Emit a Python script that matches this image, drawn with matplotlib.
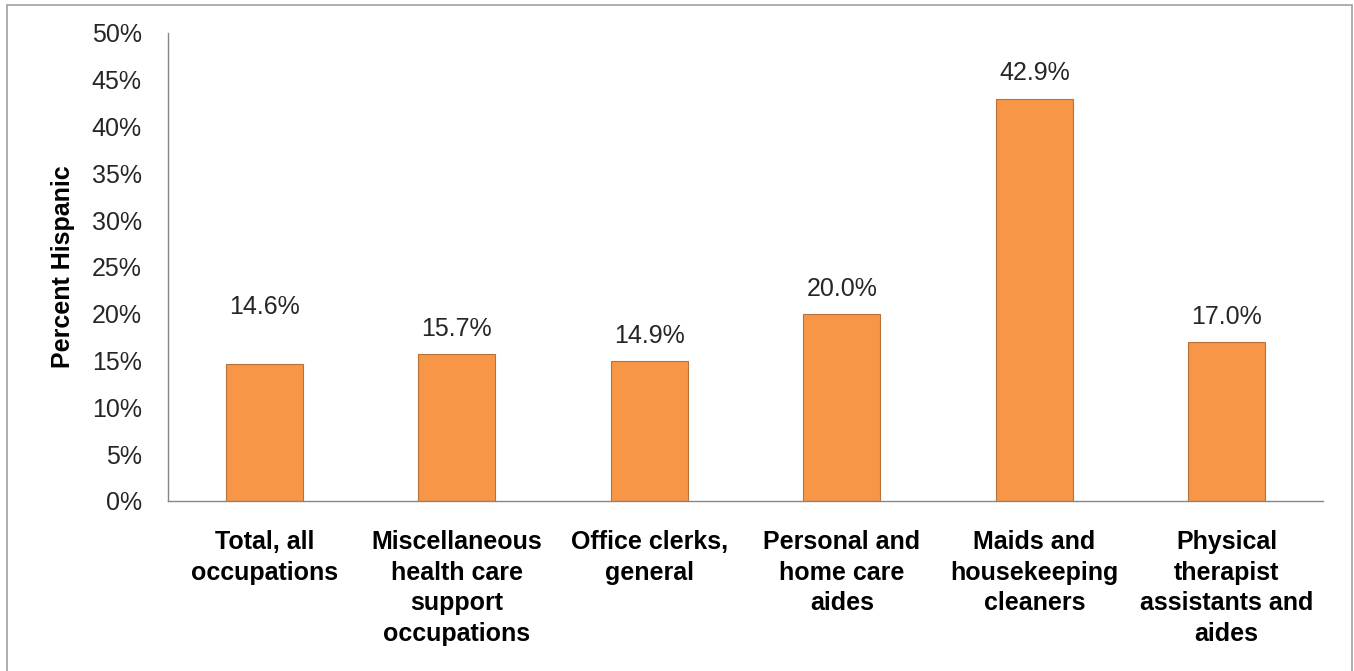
import numpy as np
import matplotlib.pyplot as plt
from matplotlib.patches import Rectangle
from matplotlib.ticker import PercentFormatter

# share of Hispanic workers by occupation
occupations = [
    'Total, all\noccupations',
    'Miscellaneous\nhealth care\nsupport\noccupations',
    'Office clerks,\ngeneral',
    'Personal and\nhome care\naides',
    'Maids and\nhousekeeping\ncleaners',
    'Physical\ntherapist\nassistants and\naides',
]
pct_hispanic = [14.6, 15.7, 14.9, 20.0, 42.9, 17.0]
yticks = [0, 5, 10, 15, 20, 25, 30, 35, 40, 45, 50]

# label offsets above the bar tops, in points
label_offsets = [41, 18, 18, 18, 19, 18]

plt.rcParams['font.family'] = ['Liberation Sans', 'DejaVu Sans']

fig = plt.figure(figsize=(13.54, 6.71), dpi=100)
ax = fig.add_axes([0.1241, 0.2534, 0.853, 0.6975])

x = np.arange(len(occupations))
ax.bar(x, pct_hispanic, width=0.4, color='#F79646', edgecolor='#B8713A', linewidth=0.8, zorder=2)

for xi, v, off in zip(x, pct_hispanic, label_offsets):
    ax.annotate(f'{v:.1f}%', (xi, v), xytext=(0, off), textcoords='offset points',
                ha='center', va='center', fontsize=18, color='#262626')

ax.set_xlim(-0.5, len(occupations) - 0.5)
ax.set_ylim(0, 50)
ax.set_yticks(yticks)
ax.yaxis.set_major_formatter(PercentFormatter(decimals=0))
ax.set_xticks(x)
ax.set_xticklabels(occupations, fontsize=18, fontweight='bold', linespacing=1.35)
ax.tick_params(axis='x', length=0, pad=21)
ax.tick_params(axis='y', length=0, pad=19, labelsize=18, labelcolor='#262626')

for side in ['top', 'right']:
    ax.spines[side].set_visible(False)
for side in ['left', 'bottom']:
    ax.spines[side].set_color('#868686')
    ax.spines[side].set_linewidth(1.0)

ax.set_ylabel('Percent Hispanic', fontsize=18, fontweight='bold', labelpad=12)

# outer frame around the chart (runs off the bottom edge)
fig.patches.append(Rectangle((7 / 1354, -0.01), 1345 / 1354, 1 - 5 / 671 + 0.01,
                             transform=fig.transFigure, fill=False,
                             edgecolor='#A0A0A0', linewidth=1.2))

fig.savefig('out.png', dpi=100)
